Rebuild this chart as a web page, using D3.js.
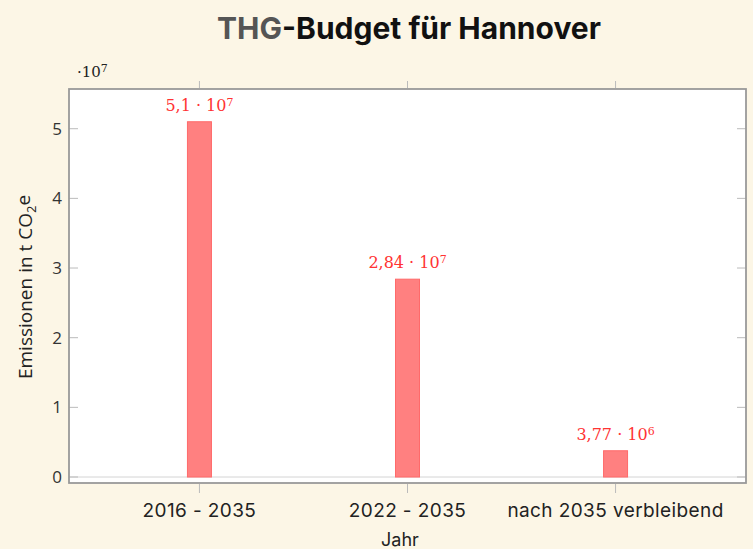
<!DOCTYPE html>
<html>
<head>
<meta charset="utf-8">
<script src="https://cdn.jsdelivr.net/npm/d3@7"></script>
<style>
  body { margin: 0; background: #fcf6e6; }
  svg { display: block; }
</style>
</head>
<body>
<div id="chart"></div>
<script>
// data
const categories = ["2016 - 2035", "2022 - 2035", "nach 2035 verbleibend"];
const values = [5.1e7, 2.84e7, 3.77e6];
const yTicks = [0, 1, 2, 3, 4, 5];
const scaleExp = 7;

const W = 753, H = 549;
const margin = { top: 89, right: 7, bottom: 66, left: 69 };
const width = W - margin.left - margin.right,
      height = H - margin.top - margin.bottom;

const svg = d3.select("#chart").append("svg")
    .attr("width", W)
    .attr("height", H);

// title
const title = svg.append("text")
    .attr("x", 409)
    .attr("y", 39)
    .attr("text-anchor", "middle")
    .style("font-family", "Inter, 'Open Sans', sans-serif")
    .style("font-weight", "700")
    .style("font-size", "30px");
title.append("tspan").attr("fill", "#555").text("THG");
title.append("tspan").attr("fill", "#111").text("-Budget für Hannover");

const g = svg.append("g")
    .attr("transform", `translate(${margin.left},${margin.top})`);

const x = d3.scalePoint()
    .domain(categories)
    .range([0, width])
    .padding(0.627);

const y = d3.scaleLinear()
    .domain([-0.086, 5.57])
    .range([height, 0]);

// plot background
g.append("rect")
    .attr("width", width)
    .attr("height", height)
    .attr("fill", "#fff");

// zero line
g.append("line")
    .attr("x1", 0).attr("x2", width)
    .attr("y1", y(0)).attr("y2", y(0))
    .attr("stroke", "#d4d4d4")
    .attr("stroke-width", 1);

// y ticks inside, both sides
g.selectAll(".ytl").data(yTicks).join("line")
    .attr("x1", 0).attr("x2", 9)
    .attr("y1", d => y(d)).attr("y2", d => y(d))
    .attr("stroke", "#bbb");
g.selectAll(".ytr").data(yTicks).join("line")
    .attr("x1", width - 9).attr("x2", width)
    .attr("y1", d => y(d)).attr("y2", d => y(d))
    .attr("stroke", "#bbb");

// x ticks outside, top and bottom
g.selectAll(".xtb").data(categories).join("line")
    .attr("x1", d => x(d)).attr("x2", d => x(d))
    .attr("y1", height + 1).attr("y2", height + 10)
    .attr("stroke", "#bbb");
g.selectAll(".xtt").data(categories).join("line")
    .attr("x1", d => x(d)).attr("x2", d => x(d))
    .attr("y1", -1).attr("y2", -8)
    .attr("stroke", "#bbb");

// y tick labels
g.selectAll(".ylab").data(yTicks).join("text")
    .attr("x", -7)
    .attr("y", d => y(d))
    .attr("dy", "0.36em")
    .attr("text-anchor", "end")
    .attr("fill", "#333")
    .style("font-family", "'Open Sans', sans-serif")
    .style("font-size", "17px")
    .text(d => d);

// x tick labels
g.selectAll(".xlab").data(categories).join("text")
    .attr("x", d => x(d))
    .attr("y", height + 34)
    .attr("text-anchor", "middle")
    .attr("fill", "#222")
    .style("font-family", "Inter, 'Open Sans', sans-serif")
    .style("font-size", "19px")
    .style("letter-spacing", "0.4px")
    .text(d => d);

// bars
const barW = 24;
g.selectAll(".bar").data(values).join("rect")
    .attr("x", (d, i) => x(categories[i]) - barW / 2)
    .attr("y", d => y(d / Math.pow(10, scaleExp)))
    .attr("width", barW)
    .attr("height", d => y(0) - y(d / Math.pow(10, scaleExp)))
    .attr("fill", "#ff8080")
    .attr("stroke", "#ff6a6a")
    .attr("stroke-width", 1);

// bar labels  (mantissa · 10^exp, german decimal comma)
const labels = g.selectAll(".blab").data(values).join("text")
    .attr("x", (d, i) => x(categories[i]))
    .attr("y", d => y(d / Math.pow(10, scaleExp)) - 11)
    .attr("text-anchor", "middle")
    .attr("fill", "#ff3333")
    .style("font-family", "'DejaVu Serif', 'Liberation Serif', serif")
    .style("font-size", "16px");
labels.each(function (d) {
    const e = Math.floor(Math.log10(d));
    const m = +(d / Math.pow(10, e)).toFixed(2);
    const t = d3.select(this);
    t.append("tspan").text(String(m).replace(".", ",") + " · 10");
    t.append("tspan").attr("dy", "-0.45em").style("font-size", "11px").text(e);
});

// frame
g.append("rect")
    .attr("width", width)
    .attr("height", height)
    .attr("fill", "none")
    .attr("stroke", "#999")
    .attr("stroke-width", 1.8);

// scale note
const note = svg.append("text")
    .attr("x", 77)
    .attr("y", 77)
    .attr("fill", "#222")
    .style("font-family", "'DejaVu Serif', 'Liberation Serif', serif")
    .style("font-size", "15px");
note.append("tspan").text("·10");
note.append("tspan").attr("dy", "-0.45em").style("font-size", "11px").text(scaleExp);

// axis titles
const yt = svg.append("text")
    .attr("transform", "translate(32,287) rotate(-90)")
    .attr("text-anchor", "middle")
    .attr("fill", "#222")
    .style("font-family", "'Open Sans', sans-serif")
    .style("font-size", "19px");
yt.append("tspan").text("Emissionen in t CO");
yt.append("tspan").attr("dy", "0.3em").style("font-size", "13px").text("2");
yt.append("tspan").attr("dy", "-0.3em").text("e");

svg.append("text")
    .attr("x", 400)
    .attr("y", 546)
    .attr("text-anchor", "middle")
    .attr("fill", "#222")
    .style("font-family", "Inter, 'Open Sans', sans-serif")
    .style("font-size", "18px")
    .text("Jahr");
</script>
</body>
</html>
